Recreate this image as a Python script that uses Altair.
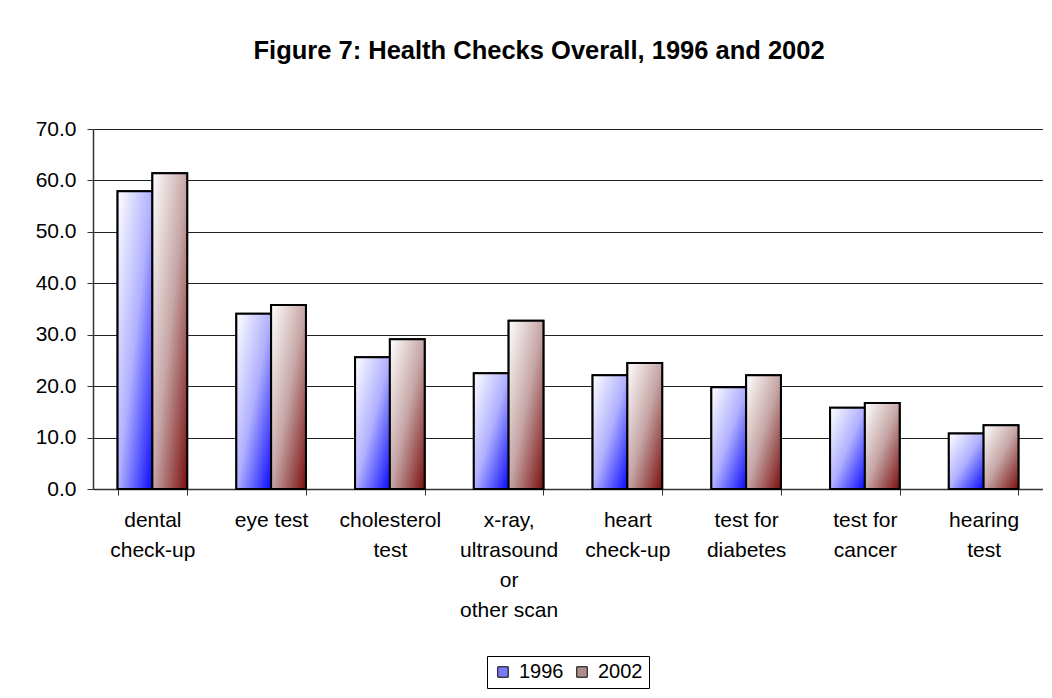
import altair as alt
import pandas as pd

categories = [
    "dental\ncheck-up",
    "eye test",
    "cholesterol\ntest",
    "x-ray,\nultrasound\nor\nother scan",
    "heart\ncheck-up",
    "test for\ndiabetes",
    "test for\ncancer",
    "hearing\ntest",
]
years = ["1996", "2002"]
values_1996 = [57.9, 34.1, 25.6, 22.5, 22.1, 19.8, 15.8, 10.8]
values_2002 = [61.4, 35.8, 29.1, 32.7, 24.5, 22.1, 16.7, 12.4]
y_ticks = [0, 10, 20, 30, 40, 50, 60, 70]
title_text = "Figure 7: Health Checks Overall, 1996 and 2002"

rows = []
for c, a, b in zip(categories, values_1996, values_2002):
    rows.append({"category": c, "year": years[0], "value": a})
    rows.append({"category": c, "year": years[1], "value": b})
df = pd.DataFrame(rows)

blue_grad = {
    "gradient": "linear", "x1": 0, "y1": 0, "x2": 1, "y2": 1,
    "stops": [
        {"offset": 0, "color": "#ffffff"},
        {"offset": 0.5, "color": "#b0b0ff"},
        {"offset": 1, "color": "#0a0aff"},
    ],
}
red_grad = {
    "gradient": "linear", "x1": 0, "y1": 0, "x2": 1, "y2": 1,
    "stops": [
        {"offset": 0, "color": "#ffffff"},
        {"offset": 0.5, "color": "#c6a6a6"},
        {"offset": 1, "color": "#7a0e0e"},
    ],
}

FONT = "Liberation Sans"

x_enc = alt.X(
    "category:N", sort=categories, title=None,
    scale=alt.Scale(paddingInner=0.414, paddingOuter=0.207),
    axis=alt.Axis(
        labelAngle=0, labelExpr="split(datum.label, '\\n')", tickBand="extent",
        labelFontSize=21, labelLineHeight=30, labelPadding=14, labelLimit=0,
        tickSize=6, tickColor="#333", domainColor="#333", domainWidth=1.5,
        labelColor="black", labelFont=FONT, grid=False, labelBaseline="top",
    ),
)
y_enc = alt.Y(
    "value:Q", title=None,
    scale=alt.Scale(domain=[0, 70], nice=False),
    axis=alt.Axis(
        values=y_ticks, format=".1f", gridColor="#222", gridWidth=1,
        tickSize=6, tickColor="#333", labelPadding=11, labelFontSize=21,
        labelFont=FONT, labelColor="black", domainColor="#333", domainWidth=1.5,
    ),
)
xoff = alt.XOffset("year:N", sort=years, scale=alt.Scale(paddingInner=0, paddingOuter=0))

base = alt.Chart(df).mark_bar(stroke="black", strokeWidth=2).encode(
    x=x_enc, y=y_enc, xOffset=xoff,
    color=alt.Color(
        "year:N",
        scale=alt.Scale(domain=years, range=["#7a7af2", "#b08c8c"]),
        legend=alt.Legend(
            title=None, orient="none", legendX=394, legendY=527,
            direction="horizontal", symbolType="square", symbolSize=110,
            symbolStrokeColor="black", symbolStrokeWidth=1,
            labelFontSize=20, labelFont=FONT, labelColor="black",
            strokeColor="black", fillColor="white", padding=6,
            columnPadding=8, labelOffset=6,
        ),
    ),
)

overlay = alt.Chart(df).mark_bar(stroke="black", strokeWidth=2).encode(
    x=x_enc, y=y_enc, xOffset=xoff,
    fill=alt.condition(alt.datum.year == years[0], alt.value(blue_grad), alt.value(red_grad)),
)

chart = alt.layer(base, overlay).properties(
    width=950, height=360,
    padding={"left": 27, "top": 30, "right": 0, "bottom": 4},
    title=alt.TitleParams(
        title_text, fontSize=25.5, fontWeight="bold", font=FONT,
        anchor="middle", frame="bounds", offset=54, color="black",
    ),
).configure_view(stroke="#888", strokeWidth=2).configure(font=FONT, background="white")

chart.save("out.html", embed_options={"renderer": "svg", "actions": False})
